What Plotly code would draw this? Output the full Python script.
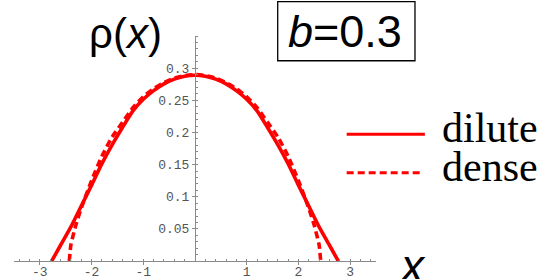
import plotly.graph_objects as go

# Data
dilute_x = [-2.77, -2.6, -2.4, -2.2, -2.0, -1.8, -1.6, -1.4, -1.2, -1.0, -0.8, -0.6, -0.4, -0.2, 0.0,
            0.2, 0.4, 0.6, 0.8, 1.0, 1.2, 1.4, 1.6, 1.8, 2.0, 2.2, 2.4, 2.6, 2.77]
dilute_y = [0.0, 0.0245, 0.053, 0.0855, 0.118, 0.1515, 0.181, 0.208, 0.2335, 0.2515, 0.265, 0.2755, 0.283, 0.2875, 0.289,
            0.2875, 0.283, 0.2755, 0.265, 0.2515, 0.2335, 0.208, 0.181, 0.1515, 0.118, 0.0855, 0.053, 0.0245, 0.0]

dense_x = [-2.43, -2.4, -2.3, -2.2, -2.0, -1.8, -1.6, -1.4, -1.2, -1.0, -0.8, -0.6, -0.4, -0.2, 0.0,
           0.2, 0.4, 0.6, 0.8, 1.0, 1.2, 1.4, 1.6, 1.8, 2.0, 2.2, 2.3, 2.4, 2.43]
dense_y = [0.0, 0.025, 0.057, 0.082, 0.125, 0.163, 0.193, 0.216, 0.2385, 0.2555, 0.268, 0.2775, 0.2845, 0.2885, 0.29,
           0.2885, 0.2845, 0.2775, 0.268, 0.2555, 0.2385, 0.216, 0.193, 0.163, 0.125, 0.082, 0.057, 0.025, 0.0]

x_tickvals = [-3, -2, -1, 1, 2, 3]
x_ticktext = ["-3", "-2", "-1", "1", "2", "3"]
y_tickvals = [0.05, 0.1, 0.15, 0.2, 0.25, 0.3]
y_ticktext = ["0.05", "0.1", "0.15", "0.2", "0.25", "0.3"]

series_names = ["dilute", "dense"]
b_value = "0.3"

RED = "#ff0000"
AXIS = "#8a8a8a"
TICKFONT = dict(family="Liberation Mono", size=13, color="#555555")

fig = go.Figure()
fig.add_trace(go.Scatter(x=dilute_x, y=dilute_y, mode="lines", name=series_names[0],
                         line=dict(color=RED, width=3.6, shape="spline", smoothing=0.6)))
fig.add_trace(go.Scatter(x=dense_x, y=dense_y, mode="lines", name=series_names[1],
                         line=dict(color=RED, width=3.6, dash="7px,4px", shape="spline", smoothing=0.6)))

fig.update_layout(
    width=545, height=279,
    margin=dict(l=14, r=169, t=36, b=18, autoexpand=False),
    paper_bgcolor="white", plot_bgcolor="white",
    showlegend=False,
    xaxis=dict(range=[-3.5, 3.5], showgrid=False, zeroline=False, automargin=False,
               showline=True, linecolor=AXIS, linewidth=1,
               tickmode="array", tickvals=x_tickvals, ticktext=x_ticktext,
               ticks="outside", ticklen=3, tickcolor=AXIS, tickwidth=1,
               ticklabelstandoff=-5,
               tickfont=TICKFONT,
               minor=dict(tickmode="linear", tick0=0, dtick=0.2, ticks="inside",
                          ticklen=2, tickcolor=AXIS, tickwidth=1, showgrid=False)),
    yaxis=dict(range=[0, 0.35], showgrid=False, zeroline=False, automargin=False,
               anchor="free", position=0.5,
               showline=True, linecolor=AXIS, linewidth=1,
               tickmode="array", tickvals=y_tickvals, ticktext=y_ticktext,
               ticks="outside", ticklen=3, tickcolor=AXIS, tickwidth=1,
               tickfont=TICKFONT,
               minor=dict(tickmode="linear", tick0=0, dtick=0.01, ticks="inside",
                          ticklen=2, tickcolor=AXIS, tickwidth=1, showgrid=False)),
)

# Axis titles
fig.add_annotation(text="ρ(<i>x</i>)", xref="paper", yref="paper", x=0.309, y=1.013,
                   xanchor="center", yanchor="middle", showarrow=False,
                   font=dict(family="Liberation Sans", size=42, color="black"))
fig.add_annotation(text="<i>x</i>", xref="paper", yref="paper", x=1.102, y=-0.02,
                   xanchor="center", yanchor="middle", showarrow=False,
                   font=dict(family="Liberation Sans", size=46, color="black"))

# b label with box
fig.add_shape(type="rect", xref="paper", yref="paper", x0=0.7285, x1=1.1077, y0=0.890, y1=1.1524,
              line=dict(color="black", width=1.3), fillcolor="rgba(0,0,0,0)")
fig.add_annotation(text="<i>b</i>=" + b_value, xref="paper", yref="paper", x=0.9157, y=1.02,
                   xanchor="center", yanchor="middle", showarrow=False,
                   font=dict(family="Liberation Sans", size=45, color="black"))

# Legend (manual)
fig.add_shape(type="line", xref="paper", yref="paper", x0=0.919, x1=1.135, y0=0.563, y1=0.563,
              line=dict(color=RED, width=3))
fig.add_shape(type="line", xref="paper", yref="paper", x0=0.919, x1=1.124, y0=0.392, y1=0.392,
              line=dict(color=RED, width=3, dash="7px,4px"))
fig.add_annotation(text=series_names[0], xref="paper", yref="paper", x=1.178, y=0.589,
                   xanchor="left", yanchor="middle", showarrow=False,
                   font=dict(family="Liberation Serif", size=42, color="black"))
fig.add_annotation(text=series_names[1], xref="paper", yref="paper", x=1.178, y=0.42,
                   xanchor="left", yanchor="middle", showarrow=False,
                   font=dict(family="Liberation Serif", size=42, color="black"))

fig.write_html("out.html", config={"displayModeBar": False},
               post_script="document.body.style.margin='0';document.body.style.overflow='hidden';")
